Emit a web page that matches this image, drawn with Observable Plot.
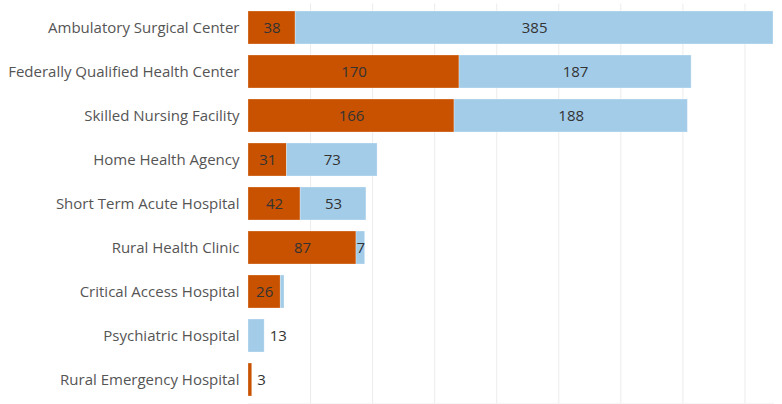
<!DOCTYPE html>
<html>
<head>
<meta charset="utf-8">
<script src="https://cdn.jsdelivr.net/npm/d3@7"></script>
<script src="https://cdn.jsdelivr.net/npm/@observablehq/plot@0.6"></script>
<style>
  html, body { margin: 0; padding: 0; background: #fff; }
</style>
</head>
<body>
<div id="chart"></div>
<script>
const categories = [
  "Ambulatory Surgical Center",
  "Federally Qualified Health Center",
  "Skilled Nursing Facility",
  "Home Health Agency",
  "Short Term Acute Hospital",
  "Rural Health Clinic",
  "Critical Access Hospital",
  "Psychiatric Hospital",
  "Rural Emergency Hospital"
];
const orangeValues = [38, 170, 166, 31, 42, 87, 26, 0, 3];
const blueValues   = [385, 187, 188, 73, 53, 7, 3, 13, 0];
const seriesNames = ["A", "B"];
const seriesColors = ["#c85200", "#a3cce9"];
const gridTicks = [50, 100, 150, 200, 250, 300, 350, 400];

const rows = [];
categories.forEach((c, i) => {
  rows.push({cat: c, series: "A", value: orangeValues[i], other: blueValues[i]});
  rows.push({cat: c, series: "B", value: blueValues[i], other: orangeValues[i]});
});

const insideLabel = d => (d.value >= 5 && d.other > 0) ? String(d.value) : "";
const outsideRows = rows.filter(d => d.value > 0 && d.other === 0);

const chart = Plot.plot({
  width: 782,
  height: 404,
  marginTop: 3.5,
  marginBottom: 0.5,
  marginLeft: 248,
  marginRight: 9,
  style: {fontFamily: "'Open Sans', sans-serif", fontSize: "15px", color: "#555"},
  x: {domain: [0, 423], axis: null},
  y: {domain: categories, paddingInner: 0.24, paddingOuter: 0.12, label: null, tickSize: 0, tickPadding: 9},
  color: {domain: seriesNames, range: seriesColors},
  marks: [
    Plot.gridX(gridTicks, {stroke: "#ececec", strokeOpacity: 1}),
    Plot.frame({anchor: "bottom", stroke: "#ececec"}),
    Plot.barX(rows, Plot.stackX({x: "value", y: "cat", fill: "series", order: seriesNames, stroke: "#fff", strokeOpacity: 0.35, strokeWidth: 0.8})),
    Plot.text(rows, Plot.stackX({x: "value", y: "cat", z: "series", order: seriesNames, text: insideLabel, fill: "#333", fontSize: 15})),
    Plot.text(outsideRows, {x: "value", y: "cat", text: d => String(d.value), dx: 5, textAnchor: "start", fill: "#333", fontSize: 15})
  ]
});
document.getElementById("chart").appendChild(chart);
</script>
</body>
</html>
